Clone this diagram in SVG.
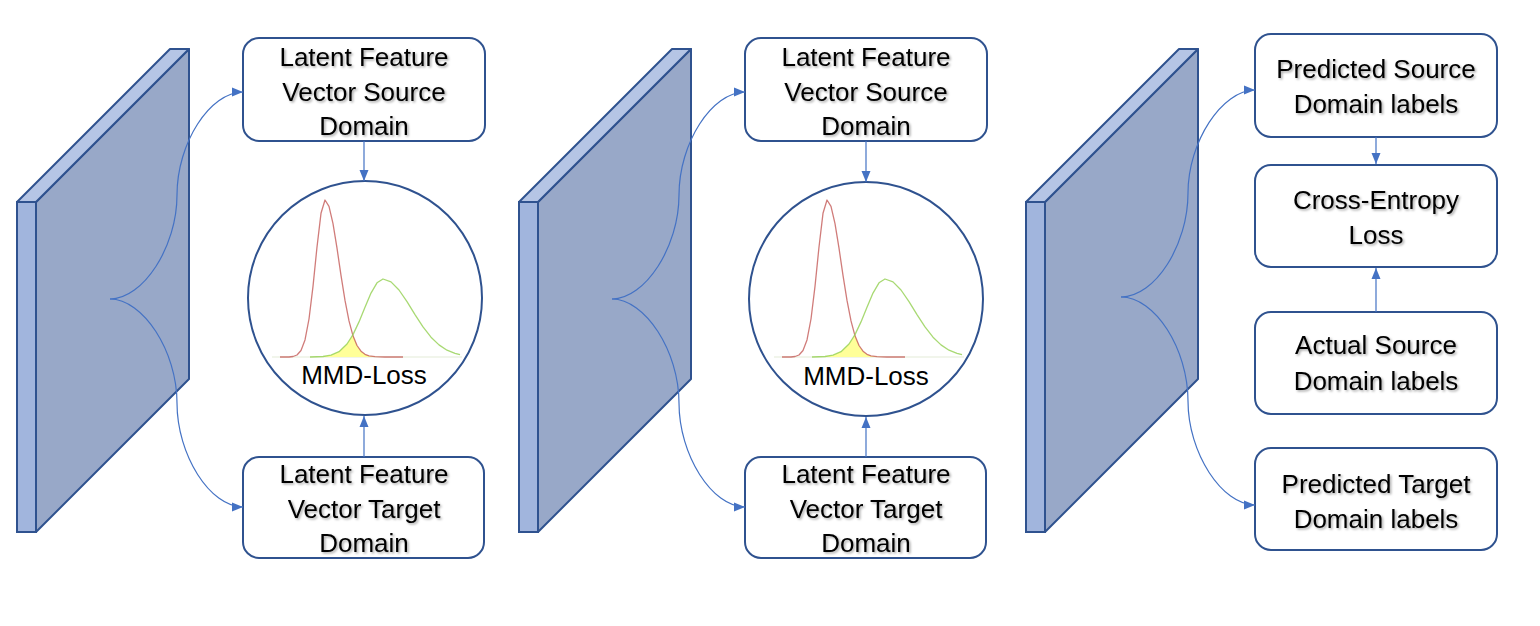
<svg xmlns="http://www.w3.org/2000/svg" width="1540" height="626" viewBox="0 0 1540 626">
<style>
.box{fill:#fff;stroke:#2f528f;stroke-width:2}
.circ{fill:#fff;stroke:#2f528f;stroke-width:2}
.side{fill:#98a8c8;stroke:#2f528f;stroke-width:2;stroke-linejoin:round}
.top{fill:#b5c5e5;stroke:#2f528f;stroke-width:2;stroke-linejoin:round}
.front{fill:#a1b5dd;stroke:#2f528f;stroke-width:2}
.con{fill:none;stroke:#4472c4;stroke-width:1.2}
.lbl{font-family:"Liberation Sans",Arial,sans-serif;font-size:26px;fill:#000;text-anchor:middle}
.sh{filter:url(#shadow)}
.red{fill:none;stroke:#c0504d;stroke-opacity:0.75;stroke-width:1.3;stroke-linejoin:round}
.grn{fill:none;stroke:#92d050;stroke-opacity:0.8;stroke-width:1.3;stroke-linejoin:round}
.yel{fill:#ffff99;stroke:none}
.base{stroke:#e4ecd8;stroke-width:1.2}
</style>
<defs>
<marker id="arr" markerUnits="userSpaceOnUse" markerWidth="13" markerHeight="11" refX="11" refY="5.5" orient="auto">
<path d="M0,1 L11,5.5 L0,10 Z" fill="#4472c4"/>
</marker>
<filter id="shadow" x="-10%" y="-20%" width="120%" height="150%">
<feDropShadow dx="1.5" dy="1.5" stdDeviation="1" flood-color="#000" flood-opacity="0.35"/>
</filter>
<g id="dist">
<line class="base" x1="272" y1="357" x2="462" y2="357"/>
<path class="yel" d="M323,357 L323,356.5 L331,355.2 L339,351.7 L347,344 L353,335.3 L357,345.5 L361,351.2 L365,354.3 L369,355.9 L375,356.7 L385,357 Z"/>
<polyline class="red" points="280,357 289,357 293,356.5 297,355 301,350.5 305,339.9 309,319 313,286.3 317,247 321,213.3 325,200 329,206.3 333,223.7 337,248.2 341,275.3 345,300.4 349,320.9 353,335.8 357,345.5 361,351.2 365,354.3 369,355.9 375,356.7 385,357 403,357"/>
<polyline class="grn" points="310,357 323,356.5 331,355.2 339,351.7 347,344 353,334.6 359,321.9 365,307.2 371,293.1 377,282.8 383,279 391,281.9 399,290 407,301.6 415,314.6 423,326.9 431,337.2 439,344.9 447,350.2 455,353.4 460,354.7"/>
</g>
<g id="slab">
<polygon class="side" points="36,202 189,49 189,379 36,532"/>
<polygon class="top" points="17,202 170,49 189,49 36,202"/>
<rect class="front" x="17" y="202" width="19" height="330"/>
</g>
</defs>

<g id="slab1"><use href="#slab"/></g>
<g id="slab2"><use href="#slab" transform="translate(502,0)"/></g>
<g id="slab3"><use href="#slab" transform="translate(1009,0)"/></g>

<g id="src1">
<rect class="box" x="243" y="38" width="242" height="103" rx="16"/>
<g class="sh">
<text class="lbl" x="364" y="66">Latent Feature</text>
<text class="lbl" x="364" y="101">Vector Source</text>
<text class="lbl" x="364" y="135">Domain</text>
</g>
</g>
<g id="mmd1">
<circle class="circ" cx="365" cy="298" r="117"/>
<use href="#dist"/>
<text class="lbl" x="364" y="384">MMD-Loss</text>
</g>
<g id="tgt1">
<rect class="box" x="243" y="457" width="241" height="101" rx="16"/>
<g class="sh">
<text class="lbl" x="364" y="483">Latent Feature</text>
<text class="lbl" x="364" y="518">Vector Target</text>
<text class="lbl" x="364" y="552">Domain</text>
</g>
</g>

<g id="src2">
<rect class="box" x="745" y="38" width="242" height="103" rx="16"/>
<g class="sh">
<text class="lbl" x="866" y="66">Latent Feature</text>
<text class="lbl" x="866" y="101">Vector Source</text>
<text class="lbl" x="866" y="135">Domain</text>
</g>
</g>
<g id="mmd2">
<circle class="circ" cx="866" cy="299" r="117"/>
<use href="#dist" transform="translate(502,0)"/>
<text class="lbl" x="866" y="385">MMD-Loss</text>
</g>
<g id="tgt2">
<rect class="box" x="745" y="457" width="241" height="101" rx="16"/>
<g class="sh">
<text class="lbl" x="866" y="483">Latent Feature</text>
<text class="lbl" x="866" y="518">Vector Target</text>
<text class="lbl" x="866" y="552">Domain</text>
</g>
</g>

<g id="predsrc">
<rect class="box" x="1255" y="34" width="242" height="103" rx="16"/>
<g class="sh">
<text class="lbl" x="1376" y="78">Predicted Source</text>
<text class="lbl" x="1376" y="113">Domain labels</text>
</g>
</g>
<g id="ce">
<rect class="box" x="1255" y="165" width="242" height="102" rx="16"/>
<g class="sh">
<text class="lbl" x="1376" y="209">Cross-Entropy</text>
<text class="lbl" x="1376" y="244">Loss</text>
</g>
</g>
<g id="actsrc">
<rect class="box" x="1255" y="312" width="242" height="102" rx="16"/>
<g class="sh">
<text class="lbl" x="1376" y="354">Actual Source</text>
<text class="lbl" x="1376" y="390">Domain labels</text>
</g>
</g>
<g id="predtgt">
<rect class="box" x="1255" y="448" width="242" height="102" rx="16"/>
<g class="sh">
<text class="lbl" x="1376" y="493">Predicted Target</text>
<text class="lbl" x="1376" y="528">Domain labels</text>
</g>
</g>

<g id="connectors">
<path class="con" marker-end="url(#arr)" d="M110,299 C143,299 177,247 177,195 C177,143 210,92 243,92"/>
<path class="con" marker-end="url(#arr)" d="M110,299 C143,299 177,351 177,403 C177,455 210,507 243,507"/>
<path class="con" marker-end="url(#arr)" d="M612,299 C645,299 679,247 679,195 C679,143 712,92 745,92"/>
<path class="con" marker-end="url(#arr)" d="M612,299 C645,299 679,351 679,403 C679,455 712,507 745,507"/>
<path class="con" marker-end="url(#arr)" d="M1121,297 C1155,297 1188,245 1188,193 C1188,142 1222,90 1255,90"/>
<path class="con" marker-end="url(#arr)" d="M1121,297 C1155,297 1188,349 1188,401 C1188,453 1222,505 1255,505"/>
<path class="con" marker-end="url(#arr)" d="M364,141 L364,181"/>
<path class="con" marker-end="url(#arr)" d="M364,457 L364,416"/>
<path class="con" marker-end="url(#arr)" d="M866,141 L866,182"/>
<path class="con" marker-end="url(#arr)" d="M866,457 L866,417"/>
<path class="con" marker-end="url(#arr)" d="M1376,137 L1376,164"/>
<path class="con" marker-end="url(#arr)" d="M1376,312 L1376,268"/>
</g>
</svg>
